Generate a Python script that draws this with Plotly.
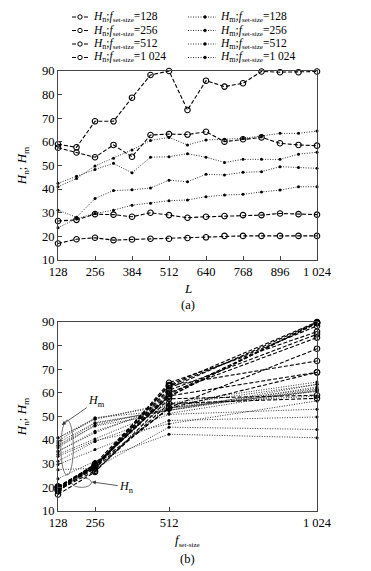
import plotly.graph_objects as go

# ---------------- data ----------------
L_VALUES = [128, 192, 256, 320, 384, 448, 512, 576, 640, 704, 768, 832, 896, 960, 1024]
L_TICKVALS = [128, 256, 384, 512, 640, 768, 896, 1024]
L_TICKTEXT = ["128", "256", "384", "512", "640", "768", "896", "1 024"]
F_SIZES = [128, 256, 512, 1024]
F_TICKTEXT = ["128", "256", "512", "1 024"]
Y_TICKVALS = [10, 20, 30, 40, 50, 60, 70, 80, 90]
F_LABELS = ["128", "256", "512", "1 024"]

HN_128 = [17.0, 18.8, 19.4, 18.4, 18.7, 19.0, 19.0, 19.3, 19.6, 20.2, 20.2, 20.2, 20.2, 20.2, 20.2]
HN_256 = [26.5, 27.0, 29.4, 29.2, 28.3, 30.0, 29.0, 27.9, 28.3, 28.6, 29.0, 29.0, 29.7, 29.4, 29.2]
HN_512 = [57.5, 55.5, 53.5, 58.7, 53.7, 62.9, 63.3, 63.1, 64.3, 60.1, 61.1, 61.9, 59.4, 58.7, 58.4]
HN_1024 = [59.0, 57.7, 68.7, 68.7, 78.7, 88.3, 90.0, 73.5, 85.9, 83.4, 84.8, 89.8, 89.5, 89.5, 89.8]

HM_128 = [23.7, 27.5, 29.7, 31.1, 33.2, 34.0, 35.1, 35.4, 36.8, 37.5, 37.8, 38.8, 39.6, 41.0, 41.0]
HM_256 = [31.1, 28.1, 36.0, 39.4, 39.7, 40.5, 43.8, 43.1, 46.3, 46.0, 47.1, 47.4, 49.5, 49.2, 48.8]
HM_512 = [42.5, 45.5, 48.3, 50.9, 46.9, 53.5, 53.7, 55.0, 53.5, 51.3, 52.6, 52.6, 52.6, 54.8, 55.6]
HM_1024 = [41.0, 44.5, 49.8, 53.1, 56.6, 60.6, 61.9, 58.7, 60.8, 61.1, 61.5, 62.5, 63.6, 63.6, 64.6]

HN_SERIES = [HN_128, HN_256, HN_512, HN_1024]
HM_SERIES = [HM_128, HM_256, HM_512, HM_1024]

# ---------------- styles ----------------
FONT = "Liberation Serif"
HN_LINE = dict(color="black", width=1.1, dash="4px,2px")
HN_MARKER = dict(symbol="circle-open", size=5.5, color="black", line=dict(width=1.1, color="black"))
HM_LINE = dict(color="#333333", width=1, dash="1px,1.5px")
HM_MARKER = dict(symbol="circle", size=3, color="black")

# The page body has an 8px default margin, so the figure is offset by 8px.
OFF = 8
W, H = 371 - OFF, 571 - OFF
ML, MR, MT, MB = 58 - OFF, 54, 71 - OFF, 60
PW, PH = W - ML - MR, H - MT - MB


def px_x(px):
    """window pixel x -> paper coordinate"""
    return (px - OFF - ML) / PW


def px_y(py):
    """window pixel y -> paper coordinate"""
    return (H - MB - (py - OFF)) / PH


SUB = "<sub><span style='font-size:7px'>set-size</span></sub>"


def hn_name(lbl):
    return "<i>H</i><sub>n</sub>;<i>f</i>" + SUB + "=" + lbl


def hm_name(lbl):
    return "<i>H</i><sub>m</sub>;<i>f</i>" + SUB + "=" + lbl


fig = go.Figure()

# ---- top chart: values vs L ----
for hm in HM_SERIES:
    fig.add_trace(go.Scatter(x=L_VALUES, y=hm, mode="lines+markers", line=HM_LINE,
                             marker=HM_MARKER, showlegend=False, cliponaxis=False,
                             xaxis="x", yaxis="y"))
for hn in HN_SERIES:
    fig.add_trace(go.Scatter(x=L_VALUES, y=hn, mode="lines+markers", line=HN_LINE,
                             marker=HN_MARKER, showlegend=False, cliponaxis=False,
                             xaxis="x", yaxis="y"))

# ---- bottom chart: values vs f_set-size, one line per L ----
for i in range(len(L_VALUES)):
    fig.add_trace(go.Scatter(x=F_SIZES, y=[s[i] for s in HM_SERIES], mode="lines+markers",
                             line=HM_LINE, marker=HM_MARKER, showlegend=False,
                             cliponaxis=False, xaxis="x2", yaxis="y2"))
for i in range(len(L_VALUES)):
    fig.add_trace(go.Scatter(x=F_SIZES, y=[s[i] for s in HN_SERIES], mode="lines+markers",
                             line=HN_LINE, marker=HN_MARKER, showlegend=False,
                             cliponaxis=False, xaxis="x2", yaxis="y2"))

axis_common = dict(showline=True, linecolor="#444444", linewidth=1, mirror=True,
                   ticks="inside", ticklen=4, tickcolor="#444444", showgrid=False,
                   zeroline=False,
                   tickfont=dict(family=FONT, size=12.5, color="black"))

top_dom = [1 - 189 / PH, 1]
bot_dom = [0, 189 / PH]
YTITLE = "<i>H</i><sub>n</sub>; <i>H</i><sub>m</sub>"

fig.update_layout(
    width=W, height=H,
    margin=dict(l=ML, r=MR, t=MT, b=MB, autoexpand=False),
    paper_bgcolor="white", plot_bgcolor="white",
    showlegend=False,
    font=dict(family=FONT, color="black", size=12),
    xaxis=dict(axis_common, domain=[0, 1], anchor="y", range=[128, 1024],
               tickvals=L_TICKVALS, ticktext=L_TICKTEXT),
    yaxis=dict(axis_common, domain=top_dom, anchor="x", range=[10, 90],
               tickvals=Y_TICKVALS,
               title=dict(text=YTITLE, font=dict(family=FONT, size=13), standoff=12)),
    xaxis2=dict(axis_common, domain=[0, 1], anchor="y2", range=[128, 1024],
                tickvals=F_SIZES, ticktext=F_TICKTEXT),
    yaxis2=dict(axis_common, domain=bot_dom, anchor="x2", range=[10, 90],
                tickvals=Y_TICKVALS,
                title=dict(text=YTITLE, font=dict(family=FONT, size=13), standoff=12)),
)

annotations = []
shapes = []

# ---- custom legend (two columns, tight rows) ----
LEG_ROWS = [17, 30.5, 44, 57.5]
for row_py, lbl in zip(LEG_ROWS, F_LABELS):
    y = px_y(row_py)
    shapes.append(dict(type="line", xref="paper", yref="paper", x0=px_x(72), x1=px_x(88),
                       y0=y, y1=y, line=dict(color="black", width=1.1, dash="4px,2px")))
    shapes.append(dict(type="circle", xref="paper", yref="paper", xsizemode="pixel",
                       ysizemode="pixel", xanchor=px_x(80), yanchor=y, x0=-2.2, x1=2.2,
                       y0=-2.2, y1=2.2, fillcolor="white", line=dict(color="black", width=1)))
    annotations.append(dict(xref="paper", yref="paper", x=px_x(91), y=y, xanchor="left",
                            yanchor="middle", showarrow=False, text=hn_name(lbl),
                            font=dict(family=FONT, size=11.5, color="black")))
    shapes.append(dict(type="line", xref="paper", yref="paper", x0=px_x(188), x1=px_x(216),
                       y0=y, y1=y, line=dict(color="#333333", width=1, dash="1px,1.5px")))
    shapes.append(dict(type="circle", xref="paper", yref="paper", xsizemode="pixel",
                       ysizemode="pixel", xanchor=px_x(205), yanchor=y, x0=-1.4, x1=1.4,
                       y0=-1.4, y1=1.4, fillcolor="black", line=dict(color="black", width=0.5)))
    annotations.append(dict(xref="paper", yref="paper", x=px_x(218), y=y, xanchor="left",
                            yanchor="middle", showarrow=False, text=hm_name(lbl),
                            font=dict(family=FONT, size=11.5, color="black")))

# ---- axis titles and panel labels ----
annotations.append(dict(xref="paper", yref="paper", x=0.5, y=px_y(288), showarrow=False,
                        xanchor="center", yanchor="middle", text="<i>L</i>",
                        font=dict(family=FONT, size=13)))
annotations.append(dict(xref="paper", yref="paper", x=0.5, y=px_y(305), showarrow=False,
                        xanchor="center", yanchor="middle", text="(a)",
                        font=dict(family=FONT, size=12.5)))
annotations.append(dict(xref="paper", yref="paper", x=0.5, y=px_y(540), showarrow=False,
                        xanchor="center", yanchor="middle", text="<i>f</i>" + SUB,
                        font=dict(family=FONT, size=13)))
annotations.append(dict(xref="paper", yref="paper", x=0.5, y=px_y(559), showarrow=False,
                        xanchor="center", yanchor="middle", text="(b)",
                        font=dict(family=FONT, size=12.5)))

# ---- callouts in bottom chart ----
shapes.append(dict(type="circle", xref="x2", yref="y2", x0=138, x1=181, y0=25.2, y1=48.5,
                   line=dict(color="#555555", width=0.8)))
shapes.append(dict(type="circle", xref="x2", yref="y2", x0=175, x1=244, y0=20.0, y1=24.1,
                   line=dict(color="#555555", width=0.8)))
annotations.append(dict(xref="x2", yref="y2", x=141, y=46.4, axref="x2", ayref="y2",
                        ax=262, ay=56.7, text="<i>H</i><sub>m</sub>", showarrow=True,
                        arrowhead=2, arrowsize=1, arrowwidth=0.8, arrowcolor="#333333",
                        standoff=0, font=dict(family=FONT, size=12)))
annotations.append(dict(xref="x2", yref="y2", x=245, y=22.3, axref="x2", ayref="y2",
                        ax=366, ay=20.2, text="<i>H</i><sub>n</sub>", showarrow=True,
                        arrowhead=2, arrowsize=1, arrowwidth=0.8, arrowcolor="#333333",
                        standoff=0, font=dict(family=FONT, size=12)))

fig.update_layout(annotations=annotations, shapes=shapes)

fig.write_html("out.html")
